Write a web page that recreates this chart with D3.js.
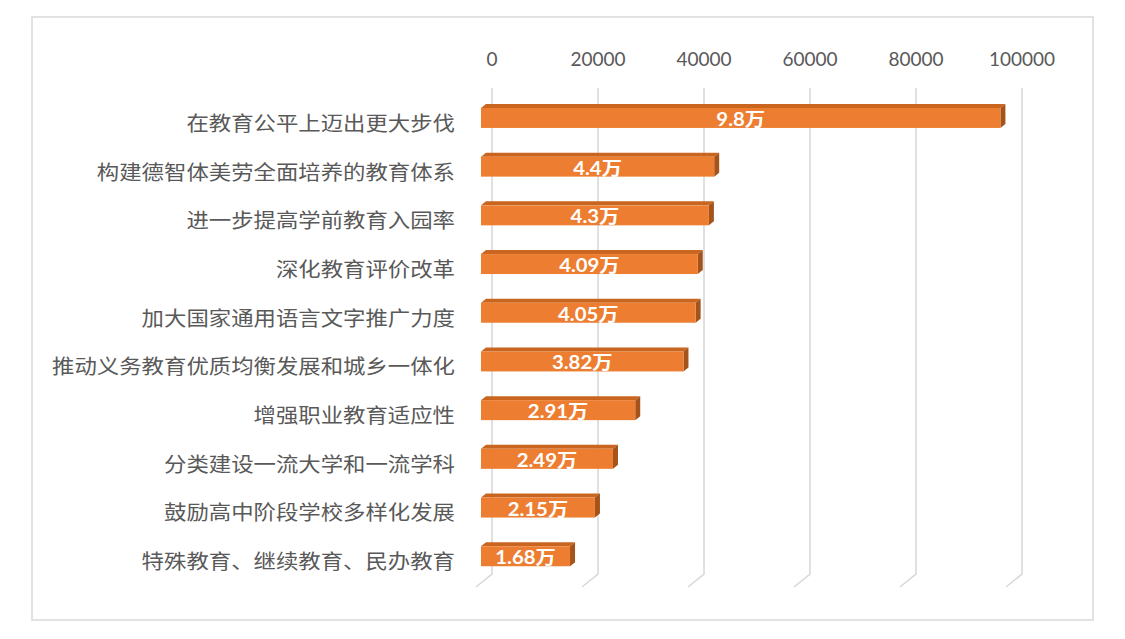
<!DOCTYPE html>
<html><head><meta charset="utf-8">
<script src="https://cdn.jsdelivr.net/npm/d3@7"></script>
<style>html,body{margin:0;padding:0;background:#fff;}</style>
</head><body>
<script>
const categories = ["在教育公平上迈出更大步伐","构建德智体美劳全面培养的教育体系","进一步提高学前教育入园率","深化教育评价改革","加大国家通用语言文字推广力度","推动义务教育优质均衡发展和城乡一体化","增强职业教育适应性","分类建设一流大学和一流学科","鼓励高中阶段学校多样化发展","特殊教育、继续教育、民办教育"];
const values = [98000,44000,43000,40900,40500,38200,29100,24900,21500,16800];
const valueLabels = ["9.8万","4.4万","4.3万","4.09万","4.05万","3.82万","2.91万","2.49万","2.15万","1.68万"];
const tickValues = [0,20000,40000,60000,80000,100000];

const W=1125,H=639;
const svg=d3.select("body").append("svg").attr("width",W).attr("height",H);
svg.append("rect").attr("width",W).attr("height",H).attr("fill","#fff");
svg.append("rect").attr("x",32).attr("y",17).attr("width",1061).attr("height",603)
  .attr("fill","none").attr("stroke","#d9d9d9").attr("stroke-width",1.5);

const x=d3.scaleLinear().domain([0,100000]).range([492,1022]);
const wallTop=88, wallBottom=574;
const y=d3.scaleBand().domain(categories).range([84.6,571.6]).paddingInner(0.59).paddingOuter(0.295);
const floorDX=-16, floorDY=13;
const frontDX=-11, frontDY=9;
const depthDX=5, depthDY=-4;

// gridlines (back wall + floor)
const g=svg.append("g");
tickValues.forEach(t=>{
  const xx=x(t);
  g.append("path").attr("d",`M${xx},${wallTop}L${xx},${wallBottom}L${xx+floorDX},${wallBottom+floorDY}`)
   .attr("fill","none").attr("stroke","#d9d9d9").attr("stroke-width",1.6);
});

// tick labels
svg.append("g").selectAll("text").data(tickValues).join("text")
  .attr("x",d=>x(d)).attr("y",58).attr("text-anchor","middle").attr("dominant-baseline","central")
  .attr("font-family","Lato, 'Open Sans', sans-serif").attr("font-size",19).attr("fill","#595959")
  .text(d=>d);

// bars
const bh=y.bandwidth();
const bars=svg.append("g").selectAll("g").data(categories).join("g");
bars.each(function(c,i){
  const gg=d3.select(this);
  const x0=x(0)+frontDX, x1=x(values[i])+frontDX;
  const yt=y(c)+frontDY, yb=yt+bh;
  // top face
  gg.append("path").attr("d",`M${x0},${yt}L${x0+depthDX},${yt+depthDY}L${x1+depthDX},${yt+depthDY}L${x1},${yt}Z`).attr("fill","#c9651f");
  // side face
  gg.append("path").attr("d",`M${x1},${yt}L${x1+depthDX},${yt+depthDY}L${x1+depthDX},${yb+depthDY}L${x1},${yb}Z`).attr("fill","#a4531a");
  // front
  gg.append("rect").attr("x",x0).attr("y",yt).attr("width",x1-x0).attr("height",bh).attr("fill","#ed7d31");
  // value label
  gg.append("text").attr("transform",`translate(${(x0+x1)/2},${yt+bh/2+1}) scale(1.13,1)`)
    .attr("text-anchor","middle").attr("dominant-baseline","central")
    .attr("font-family","Lato, 'Noto Sans CJK SC', sans-serif").attr("font-weight","bold").attr("font-size",18)
    .attr("fill","#fff").text(valueLabels[i]);
});

// category labels
svg.append("g").selectAll("text").data(categories).join("text")
  .attr("transform",c=>`translate(455,${y(c)+bh/2+floorDY}) scale(1.12,1)`)
  .attr("text-anchor","end").attr("dominant-baseline","central")
  .attr("font-family","'Noto Sans CJK SC', sans-serif").attr("font-size",20).attr("fill","#595959")
  .text(c=>c);
</script>
</body></html>
